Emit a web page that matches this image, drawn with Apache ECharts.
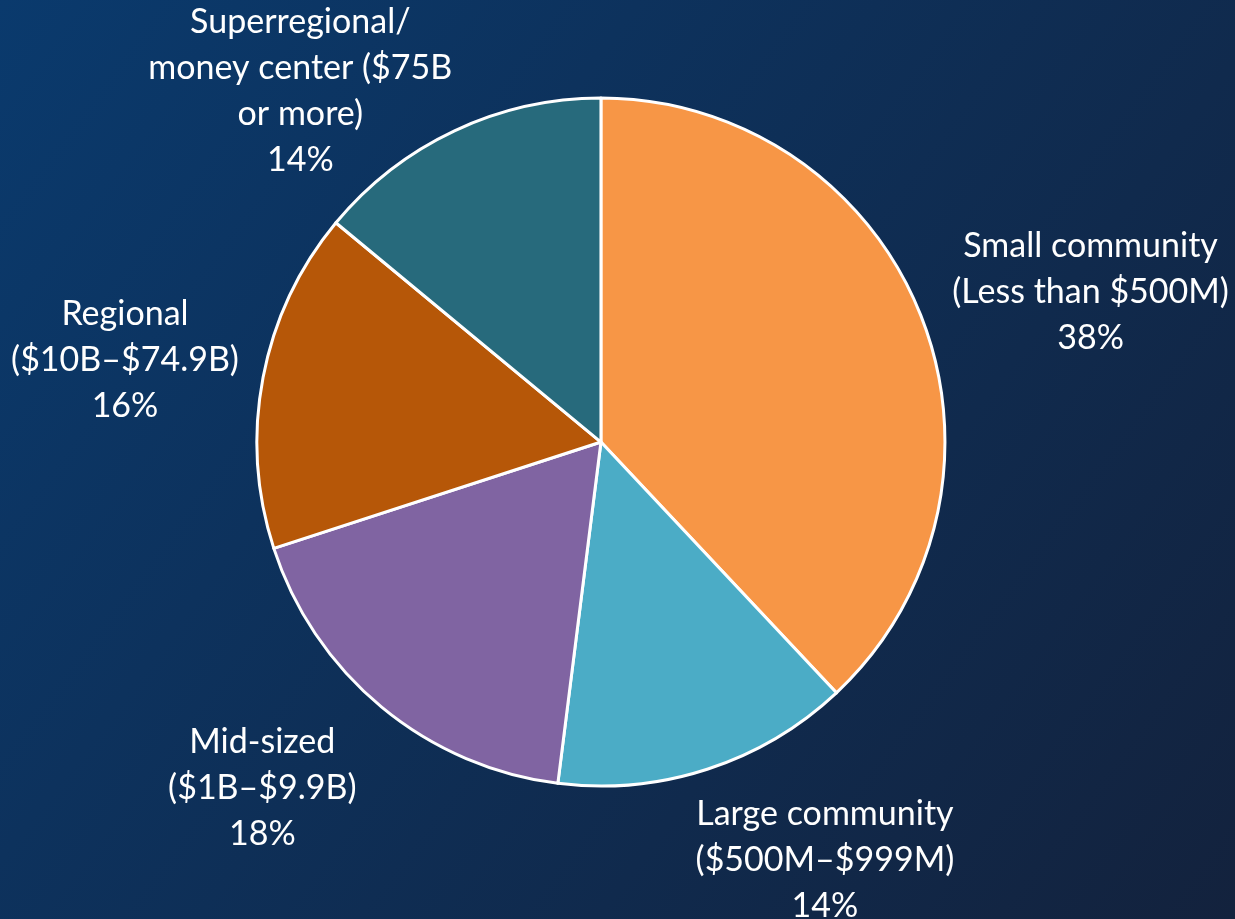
<!DOCTYPE html>
<html>
<head>
<meta charset="utf-8">
<script src="https://cdn.jsdelivr.net/npm/echarts@6/dist/echarts.min.js"></script>
<style>
  html, body { margin: 0; padding: 0; width: 100%; height: 100%; overflow: hidden; }
  #chart { width: 1235px; height: 919px; }
</style>
</head>
<body>
<div id="chart"></div>
<script>
// Bank size groups, clockwise from 12 o'clock
const categories = [
  'Small community\n(Less than $500M)',
  'Large community\n($500M\u2013$999M)',
  'Mid-sized\n($1B\u2013$9.9B)',
  'Regional\n($10B\u2013$74.9B)',
  'Superregional/\nmoney center ($75B\nor more)'
];
const shares = [38, 14, 18, 16, 14];
const sliceColors = ['#F79646', '#4BACC6', '#8064A2', '#B65708', '#276A7C'];

// Label anchors around the pie: [angle clockwise from top (deg), distance from centre (px)]
const labelSpots = [[73.0, 512], [151.8, 474], [224.4, 484], [279.8, 483], [319.4, 462]];

const chart = echarts.init(document.getElementById('chart'));
const CX = 0.4866, CY = 0.481;

chart.setOption({
  backgroundColor: {
    type: 'linear', x: 0, y: 0, x2: 1, y2: 1,
    colorStops: [
      { offset: 0, color: '#0a3a6d' },
      { offset: 1, color: '#13223d' }
    ]
  },
  animation: false,
  series: [{
    type: 'pie',
    center: [(CX * 100) + '%', (CY * 100) + '%'],
    radius: 344,
    startAngle: 90,
    clockwise: true,
    avoidLabelOverlap: false,
    data: categories.map((name, i) => ({
      name: name,
      value: shares[i],
      itemStyle: { color: sliceColors[i] }
    })),
    itemStyle: { borderColor: '#ffffff', borderWidth: 3 },
    label: {
      show: true,
      position: 'outside',
      formatter: p => p.name + '\n' + p.value + '%',
      color: '#ffffff',
      fontFamily: 'Lato',
      fontSize: 34,
      lineHeight: 46,
      align: 'center',
      overflow: 'none',
      width: 400
    },
    labelLine: { show: false },
    labelLayout: function (p) {
      const w = chart.getWidth(), h = chart.getHeight();
      const s = labelSpots[p.dataIndex];
      const a = s[0] * Math.PI / 180;
      return {
        x: w * CX + s[1] * Math.sin(a),
        y: h * CY - s[1] * Math.cos(a),
        align: 'center',
        verticalAlign: 'middle'
      };
    },
    emphasis: { disabled: true }
  }]
});
</script>
</body>
</html>
